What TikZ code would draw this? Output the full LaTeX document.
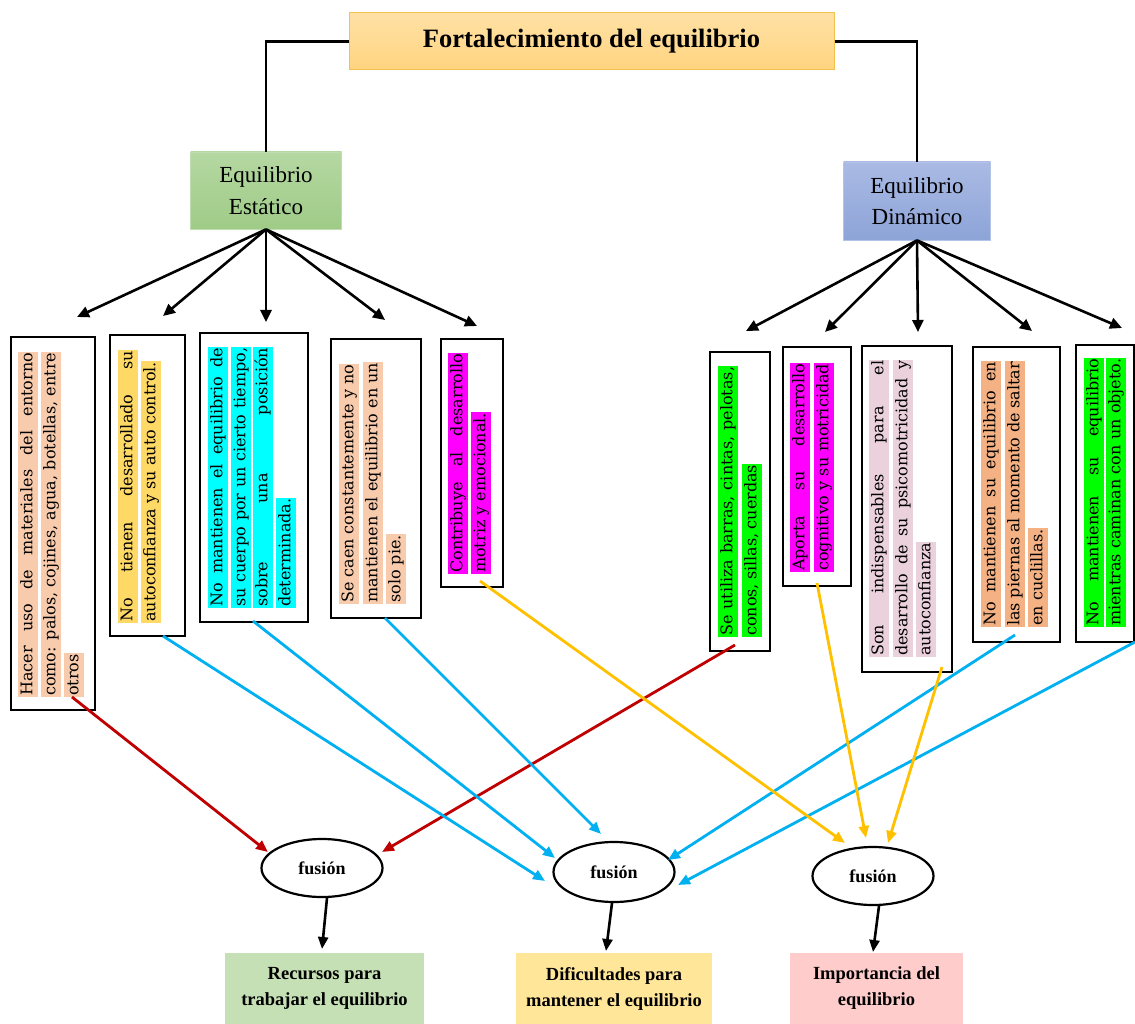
\documentclass[tikz,border=0pt]{standalone}
\usepackage{fontspec}
\newfontfamily\tnr{Liberation Serif}
\newfontfamily\rotf{DejaVu Serif}
\usetikzlibrary{arrows.meta,calc,shapes.geometric}
\definecolor{peach}{HTML}{F8CBAD}
\definecolor{ylw}{HTML}{FFD966}
\definecolor{cyn}{HTML}{00FFFF}
\definecolor{mag}{HTML}{FF00FF}
\definecolor{grn}{HTML}{00FF00}
\definecolor{pinkgray}{HTML}{EAD1DC}
\definecolor{orng}{HTML}{F4B183}
\definecolor{redln}{HTML}{C00000}
\definecolor{blueln}{HTML}{00B0F0}
\definecolor{goldln}{HTML}{FFC000}
\definecolor{resgreen}{HTML}{C5E0B4}
\definecolor{resyellow}{HTML}{FFE699}
\definecolor{respink}{HTML}{FFCCCC}
\definecolor{titletop}{HTML}{FFE1A6}
\definecolor{titlebot}{HTML}{FFD47F}
\definecolor{titleborder}{HTML}{F2C14E}
\definecolor{esttop}{HTML}{B5D8A2}
\definecolor{estbot}{HTML}{9FCB87}
\definecolor{estborder}{HTML}{BEDDB0}
\definecolor{dintop}{HTML}{AABAE4}
\definecolor{dinbot}{HTML}{8DA4D8}
\definecolor{dinborder}{HTML}{B4C4E8}
\newcommand\jline[6]{\node[hl=#2] (#1) at (#3,#4) {\makebox[#5pt][s]{#6}};}
\newcommand\nline[5]{\node[hl=#2] (#1) at (#3,#4) {#5};}
\begin{document}
\begin{tikzpicture}[x=1pt,y=-1pt,
  conn/.style={line width=2.6pt},
  fan/.style={line width=2.6pt,-{Triangle[length=12pt,width=11pt]}},
  tbox/.style={draw=black,line width=2.2pt,inner sep=0pt},
  hl/.style={rotate=90,anchor=west,fill=#1,inner xsep=1pt,inner ysep=1.5pt,text height=13pt,text depth=4.5pt,font=\rotf\fontsize{16}{20}\selectfont},
  link/.style={line width=2.8pt,draw=#1,-{Triangle[length=12pt,width=10pt]}},
  fusion/.style={draw,ellipse,line width=2.2pt,minimum width=121pt,minimum height=58pt,inner sep=0pt,font=\tnr\bfseries\fontsize{18}{20}\selectfont},
  result/.style={inner sep=0pt,align=center,font=\tnr\bfseries\fontsize{18.5}{26}\selectfont},
  down/.style={line width=2.6pt,-{Triangle[length=12pt,width=10pt]}}
]
\useasboundingbox (0,0) rectangle (1135,1024);

% title and category boxes
\node[top color=titletop, bottom color=titlebot, draw=titleborder, line width=1pt,
      minimum width=485pt, minimum height=57pt, inner sep=0pt,
      font=\tnr\bfseries\fontsize{26.5}{30}\selectfont] (title) at (591.5,41.5) {Fortalecimiento del equilibrio};
\node[top color=esttop, bottom color=estbot, draw=estborder, line width=0.8pt,
      minimum width=151pt, minimum height=77pt, inner sep=0pt, align=center,
      font=\tnr\fontsize{23}{32}\selectfont] (est) at (266,190.5) {Equilibrio\\Estático};
\node[top color=dintop, bottom color=dinbot, draw=dinborder, line width=0.8pt,
      minimum width=147pt, minimum height=78pt, inner sep=0pt, align=center,
      font=\tnr\fontsize{23}{31}\selectfont] (din) at (917,201) {Equilibrio\\Dinámico};

\draw[conn] (title.west) -| (est.north);
\draw[conn] (title.east) -| (din.north);

% text boxes (frames)
\node[tbox, minimum width=84pt, minimum height=373pt] (b1) at (53,523.5) {};
\node[tbox, minimum width=75pt, minimum height=301pt] (b2) at (147.5,485.5) {};
\node[tbox, minimum width=108pt, minimum height=289pt] (b3) at (254,477.5) {};
\node[tbox, minimum width=90pt, minimum height=279pt] (b4) at (376,478.5) {};
\node[tbox, minimum width=62pt, minimum height=248pt] (b5) at (472,463) {};
\node[tbox, minimum width=60pt, minimum height=299pt] (b6) at (740,501.5) {};
\node[tbox, minimum width=68pt, minimum height=239pt] (b7) at (817,466.5) {};
\node[tbox, minimum width=90pt, minimum height=326pt] (b8) at (907,509) {};
\node[tbox, minimum width=87pt, minimum height=295pt] (b9) at (1016.5,494.5) {};
\node[tbox, minimum width=58pt, minimum height=297pt] (b10) at (1105,493.5) {};

% highlighted rotated lines
\jline{b1a}{peach}{28}{697}{343}{Hacer uso de materiales del entorno}
\jline{b1b}{peach}{51}{697}{343}{como: palos, cojines, agua, botellas, entre}
\nline{b1c}{peach}{74}{697}{otros}

\jline{b2a}{ylw}{128}{623}{271}{No tienen desarrollado su}
\nline{b2b}{ylw}{151}{623}{autoconfianza y su auto control.}

\jline{b3a}{cyn}{218}{608}{259}{No mantienen el equilibrio de}
\jline{b3b}{cyn}{241}{608}{259}{su cuerpo por un cierto tiempo,}
\jline{b3c}{cyn}{263}{608}{259}{sobre una posición}
\nline{b3d}{cyn}{286}{608}{determinada.}

\jline{b4a}{peach}{349}{604}{238}{Se caen constantemente y no}
\jline{b4b}{peach}{373}{604}{240}{mantienen el equilibrio en un}
\nline{b4c}{peach}{396}{604}{solo pie.}

\jline{b5a}{mag}{458}{574}{219}{Contribuye al desarrollo}
\nline{b5b}{mag}{481}{574}{motriz y emocional.}

\jline{b6a}{grn}{728}{637}{269}{Se utiliza barras, cintas, pelotas,}
\jline{b6b}{grn}{752}{637}{171}{conos, sillas, cuerdas}

\jline{b7a}{mag}{800}{572}{207}{Aporta su desarrollo}
\jline{b7b}{mag}{824}{572}{207}{cognitivo y su motricidad}

\jline{b8a}{pinkgray}{879}{657}{295}{Son indispensables para el}
\jline{b8b}{pinkgray}{903}{657}{295}{desarrollo de su psicomotricidad y}
\nline{b8c}{pinkgray}{926}{657}{autoconfianza}

\jline{b9a}{orng}{991}{627}{264}{No mantienen su equilibrio en}
\jline{b9b}{orng}{1015}{627}{264}{las piernas al momento de saltar}
\nline{b9c}{orng}{1038}{627}{en cuclillas.}

\jline{b10a}{grn}{1094}{627}{267}{No mantienen su equilibrio}
\jline{b10b}{grn}{1116}{627}{267}{mientras caminan con un objeto.}

% fan arrows
\coordinate (fs1) at (77,317);
\coordinate (fs2) at (163,316);
\coordinate (fs3) at (266,322);
\coordinate (fs4) at (385,320);
\coordinate (fs5) at (477,326);
\foreach \t in {fs1,fs2,fs3,fs4,fs5} \draw[fan] (est.south) -- (\t);
\coordinate (fd1) at (746,331);
\coordinate (fd2) at (825,332);
\coordinate (fd3) at (918,332);
\coordinate (fd4) at (1032,331);
\coordinate (fd5) at (1122,328);
\foreach \t in {fd1,fd2,fd3,fd4,fd5} \draw[fan] (din.south) -- (\t);

% fusion ellipses
\node[fusion] (e1) at (322,868) {fusión};
\node[fusion, minimum height=60pt] (e2) at (614,872) {fusión};
\node[fusion] (e3) at (873,876) {fusión};

% result boxes
\node[result, fill=resgreen, minimum width=199pt, minimum height=71pt] (r1) at (324.5,988.5) {Recursos para\\trabajar el equilibrio};
\node[result, fill=resyellow, minimum width=196pt, minimum height=71pt] (r2) at (614,988.5) {Dificultades para\\mantener el equilibrio};
\node[result, fill=respink, minimum width=173pt, minimum height=71pt] (r3) at (876.5,988.5) {Importancia del\\equilibrio};

% fusion -> result
\coordinate (d1s) at (327,898);
\coordinate (d1t) at (322,949);
\coordinate (d2s) at (612,903);
\coordinate (d2t) at (606,951);
\coordinate (d3s) at (879,906);
\coordinate (d3t) at (873,952);
\draw[down] (d1s) -- (d1t);
\draw[down] (d2s) -- (d2t);
\draw[down] (d3s) -- (d3t);

% colored links
\coordinate (s1) at (72,697);   \coordinate (t1) at (268,852);
\coordinate (s6) at (735,645);  \coordinate (t6) at (382,852);
\coordinate (s2) at (163,636);  \coordinate (t2) at (545,881);
\coordinate (s3) at (253,621);  \coordinate (t3) at (555,858);
\coordinate (s4) at (385,618);  \coordinate (t4) at (601,834);
\coordinate (s9) at (1015,635); \coordinate (t9) at (668,860);
\coordinate (s10) at (1135,642);\coordinate (t10) at (678,885);
\coordinate (s5) at (480,581);  \coordinate (t5) at (845,843);
\coordinate (s7) at (817,583);  \coordinate (t7) at (866,838);
\coordinate (s8) at (942,667);  \coordinate (t8) at (888,843);

\draw[link=redln] (s1) -- (t1);
\draw[link=redln] (s6) -- (t6);
\draw[link=blueln] (s2) -- (t2);
\draw[link=blueln] (s3) -- (t3);
\draw[link=blueln] (s4) -- (t4);
\draw[link=blueln] (s9) -- (t9);
\draw[link=blueln] (s10) -- (t10);
\draw[link=goldln] (s5) -- (t5);
\draw[link=goldln] (s7) -- (t7);
\draw[link=goldln] (s8) -- (t8);
\end{tikzpicture}
\end{document}
